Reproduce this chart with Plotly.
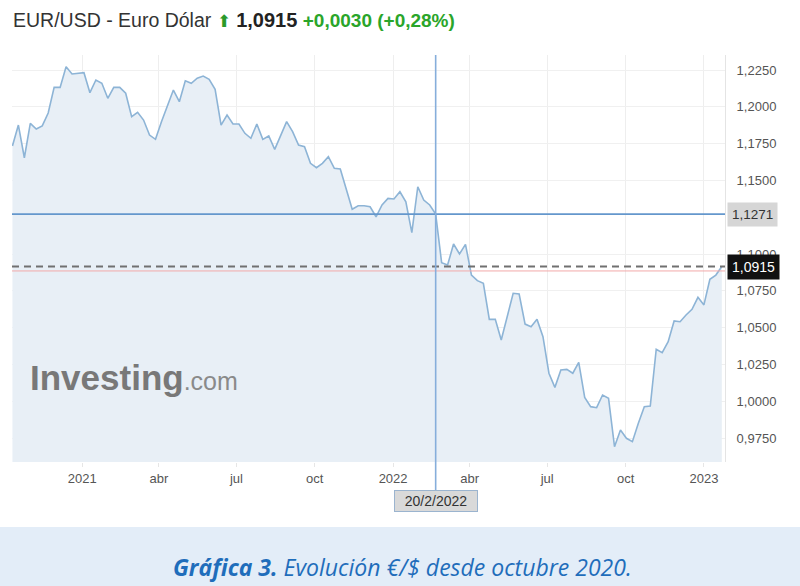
import pandas as pd
import plotly.graph_objects as go

# ---- data (weekly closes) ----
start_date = "2020-10-11"
values = [
    1.1734, 1.1876, 1.1654, 1.1888, 1.1849, 1.1870, 1.1958, 1.2132, 1.2132, 1.2272,
    1.2223, 1.2228, 1.2232, 1.2096, 1.2182, 1.2160, 1.2058, 1.2132, 1.2132, 1.2092,
    1.1933, 1.1963, 1.1910, 1.1808, 1.1779, 1.1899, 1.2001, 1.2114, 1.2035, 1.2177,
    1.2160, 1.2194, 1.2209, 1.2187, 1.2119, 1.1876, 1.1944, 1.1883, 1.1883, 1.1820,
    1.1786, 1.1883, 1.1779, 1.1802, 1.1711, 1.1802, 1.1899, 1.1831, 1.1740, 1.1729,
    1.1616, 1.1586, 1.1616, 1.1661, 1.1582, 1.1577, 1.1446, 1.1304, 1.1328, 1.1328,
    1.1321, 1.1253, 1.1333, 1.1378, 1.1374, 1.1423, 1.1355, 1.1145, 1.1457, 1.1367,
    1.1333, 1.1271, 1.0941, 1.0925, 1.1068, 1.1000, 1.1066, 1.0857, 1.0819, 1.0801,
    1.0556, 1.0556, 1.0416, 1.0570, 1.0733, 1.0728, 1.0524, 1.0506, 1.0556, 1.0438,
    1.0190, 1.0094, 1.0212, 1.0216, 1.0190, 1.0264, 1.0026, 0.9963, 0.9956, 1.0042,
    1.0020, 0.9691, 0.9804, 0.9748, 0.9725, 0.9850, 0.9963, 0.9967, 1.0353, 1.0330,
    1.0404, 1.0545, 1.0540, 1.0586, 1.0624, 1.0706, 1.0654, 1.0828, 1.0857, 1.0915,
]
dates = pd.date_range(start_date, periods=len(values), freq="7D")

y_tick_vals = [1.2250, 1.2000, 1.1750, 1.1500, 1.1000, 1.0750, 1.0500, 1.0250, 1.0000, 0.9750]
y_tick_text = ["1,2250", "1,2000", "1,1750", "1,1500", "1,1000", "1,0750", "1,0500", "1,0250", "1,0000", "0,9750"]
x_tick_vals = ["2021-01-01", "2021-04-01", "2021-07-01", "2021-10-01", "2022-01-01",
               "2022-04-01", "2022-07-01", "2022-10-01", "2023-01-01"]
x_tick_text = ["2021", "abr", "jul", "oct", "2022", "abr", "jul", "oct", "2023"]

cross_date = "2022-02-20"
cross_value = 1.1271
last_value = 1.0915
prev_close = 1.0885

# ---- layout helpers (pixel -> paper) ----
L, R, T, B = 12, 725, 55, 462
W, H = 800, 586
def px(x):
    return (x - L) / (R - L)
def py(y):
    return (B - y) / (B - T)

FONT = "Liberation Sans, Arial, sans-serif"

fig = go.Figure()
fig.add_trace(go.Scatter(
    x=dates, y=values, mode="lines",
    line=dict(color="#8db4d6", width=1.6),
    fill="tozeroy", fillcolor="#e8eff6",
    hoverinfo="skip", showlegend=False,
))

shapes = [
    # caption band
    dict(type="rect", xref="paper", yref="paper", x0=px(0), x1=px(W), y0=py(586), y1=py(527),
         fillcolor="#e3edf8", line=dict(width=0), layer="below"),
    # previous close (red)
    dict(type="line", xref="paper", yref="y", x0=0, x1=1, y0=prev_close, y1=prev_close,
         line=dict(color="#f2a9a9", width=1)),
    # last value dashed
    dict(type="line", xref="paper", yref="y", x0=0, x1=1, y0=last_value, y1=last_value,
         line=dict(color="#707070", width=2, dash="7px,5px")),
    # crosshair horizontal
    dict(type="line", xref="paper", yref="y", x0=0, x1=1, y0=cross_value, y1=cross_value,
         line=dict(color="#6497cc", width=1.6)),
    # crosshair vertical
    dict(type="line", xref="x", yref="paper", x0=cross_date, x1=cross_date, y0=py(490), y1=1,
         line=dict(color="#86aedb", width=1.6)),
]

annotations = [
    dict(xref="paper", yref="paper", x=px(11), y=py(20), xanchor="left", yanchor="middle",
         showarrow=False, align="left",
         text=("<span style='color:#333333'>EUR/USD - Euro Dólar</span> "
               "<span style='color:#2a9a2a;font-size:17px'>⬆</span> "
               "<b><span style='color:#222222;font-size:20px'>1,0915</span></b> "
               "<b><span style='color:#2aa52a;font-size:19px'>+0,0030 (+0,28%)</span></b>"),
         font=dict(family=FONT, size=19.5, color="#333333")),
    dict(xref="paper", yref="paper", x=px(28), y=py(377), xanchor="left", yanchor="middle",
         showarrow=False,
         text=("<b><span style='color:#787878'>Investing</span></b>"
               "<span style='color:#8a8a8a;font-size:25px'>.com</span>"),
         font=dict(family=FONT, size=35, color="#787878")),
    dict(xref="paper", yref="y", x=1, y=cross_value, xanchor="left", yanchor="middle", xshift=2,
         showarrow=False, text="1,1271", bgcolor="#d6d6d6", borderpad=4,
         font=dict(family=FONT, size=13.5, color="#333333")),
    dict(xref="paper", yref="y", x=1, y=last_value, xanchor="left", yanchor="middle", xshift=2,
         showarrow=False, text="1,0915", bgcolor="#111111", borderpad=4,
         font=dict(family=FONT, size=14, color="#ffffff")),
    dict(xref="x", yref="paper", x=cross_date, y=py(501), xanchor="center", yanchor="middle",
         showarrow=False, text="&nbsp;&nbsp;20/2/2022&nbsp;&nbsp;", bgcolor="#d9d9d9",
         bordercolor="#9bb4cf", borderwidth=1, borderpad=2,
         font=dict(family=FONT, size=14, color="#333333")),
    dict(xref="paper", yref="paper", x=px(402), y=py(567), xanchor="center", yanchor="middle",
         showarrow=False,
         text="<b>Gráfica 3.</b> Evolución €/$ desde octubre 2020.",
         font=dict(family="Open Sans, sans-serif", size=23, color="#1f6dbb", style="italic")),
]

fig.update_layout(
    width=W, height=H,
    margin=dict(l=L, r=W - R, t=T, b=H - B, pad=0),
    paper_bgcolor="white", plot_bgcolor="white",
    shapes=shapes, annotations=annotations,
    hovermode=False,
    xaxis=dict(
        range=["2020-10-10 12:00", "2023-01-25 18:00"],
        tickvals=x_tick_vals, ticktext=x_tick_text,
        showgrid=True, gridcolor="#eeeeee", gridwidth=1,
        zeroline=False, showline=False,
        ticks="outside", ticklen=4, tickcolor="#e6e6e6",
        tickfont=dict(family=FONT, size=13, color="#555555"),
        ticklabelstandoff=0,
    ),
    yaxis=dict(
        side="right",
        range=[0.9587, 1.2352],
        tickvals=y_tick_vals, ticktext=y_tick_text,
        showgrid=True, gridcolor="#f0f0f0", gridwidth=1,
        zeroline=False, showline=True, linecolor="#e4e4e4", linewidth=1,
        ticks="", ticklabelstandoff=8,
        tickfont=dict(family=FONT, size=13, color="#555555"),
    ),
)

fig.write_html("out.html", config={"displayModeBar": False})
